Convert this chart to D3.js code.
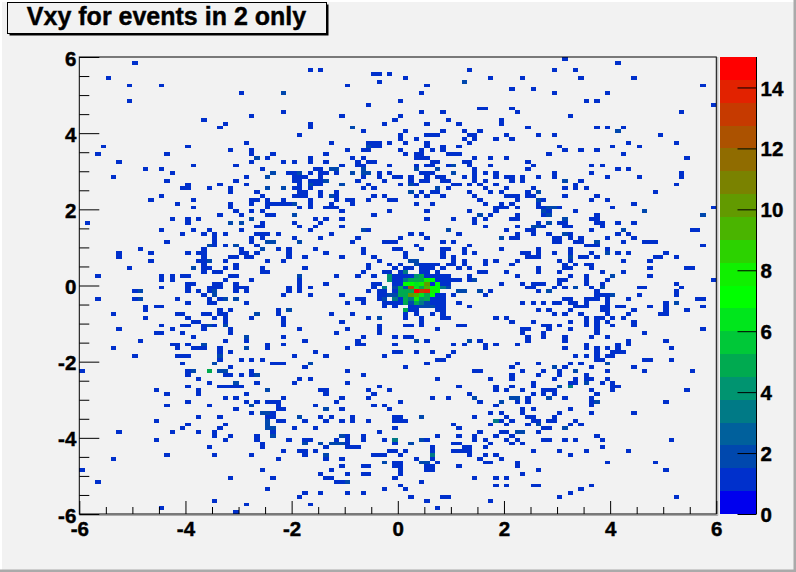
<!DOCTYPE html>
<html><head><meta charset="utf-8">
<script src="https://cdn.jsdelivr.net/npm/d3@7/dist/d3.min.js"></script>
<style>html,body{margin:0;padding:0;background:#f2f2f2;overflow:hidden}svg{display:block}text{font-family:"Liberation Sans",Arial,sans-serif;font-weight:bold}</style>
</head><body><svg id="c" width="796" height="572"></svg>
<script>
const titleText = "Vxy for events in 2 only";
const axisRange = [-6, 6];
const binCount = 120;
const majorTicks = [-6,-4,-2,0,2,4,6];
const minorTicks = [-5.5,-5,-4.5,-3.5,-3,-2.5,-1.5,-1,-0.5,0.5,1,1.5,2.5,3,3.5,4.5,5,5.5];
const paletteTicks = [0,2,4,6,8,10,12,14];
const paletteMax = 15;
const palette = ["#0000ee","#0030cc","#0048ae","#00609c","#007a86","#009470","#00aa50","#00c838","#00e61c","#00ff00","#10f000","#2cd200","#4ab400","#629a00","#7a8200","#906c00","#ac5200","#c63a00","#e22200","#ff0000"];
// bins with at least one event, listed per row of the histogram from the top
const rowBins = [
[91],[10,101],[],[43,45,73,89,93],[55,56,58],[5,61,77,83,94,104],[56,72],[9,15,50,65,117],[81,85],[30,38,64,89,99],
[],[9,60,95,97],[54,119],[75,76,81],[38,64,68,82,113],[32,49,60,92],[23,59,69,79],[27,43,57,65,71,79],[26,43,51,84,97,99,102],[53,61,68,72,75,101],
[41,60,65,66,67,73,74,80,86,89,109],[60,63,72,74,78,81],[31,47,54,55,56,58,61,65,73,103,112],[4,20,54,55,56,65,68,71,90,100,105],[28,32,50,53,54,60,64,66,68,91,94,97],
[3,16,32,36,46,61,63,64,69,70,71,88,102],[33,35,43,51,53,63,64,65,74,77,80,114],[7,32,38,40,43,46,52,54,55,66,67,72,73,84],[21,29,49,52,53,58,63,65,66,69,70,73,77,85,96,98],[12,15,34,44,45,47,48,53,63,67,74,84,101,103],
[17,36,39,40,41,43,45,46,48,51,53,54,56,58,64,65,66,70,74,76,78,89,96,113],[6,31,35,40,41,42,45,53,56,59,60,62,65,67,68,72,74,78,80,81,83,86,89,99,105,113],[16,29,40,41,43,44,45,46,52,57,62,64,65,68,69,74,76,81,83,91,94],[20,26,31,41,43,44,45,49,54,60,62,63,70,71,73,75,78,93,112],[19,20,24,28,35,38,40,41,43,53,55,67,69,76,80,85,91,93,95],
[28,33,41,42,45,48,62,64,66,67,73,77,79,84,86,108],[15,34,40,41,42,45,47,48,55,57,63,65,68,74,80,81,82,84,85,91,97],[13,21,32,33,35,38,43,48,50,51,54,58,59,75,82,86,87,96,99],[18,28,32,35,36,37,38,39,40,43,47,51,63,66,76,79,81,86,104],[21,28,35,41,43,46,47,48,78,79,80,82,86,87,88,89,90,100,119],
[29,32,34,49,58,65,73,78,87,88,93,106],[26,30,35,36,40,55,75,77,82,87,88,97,117],[17,20,22,32,44,46,49,65,70,74,76,81,82,91,96,97],[1,20,28,30,34,40,45,74,86,88,90,91,97,98,101,104],[33,34,41,44,49,76,82,85,86,87,91,92,98],
[15,21,24,30,43,53,54,69,80,84,85,96,102,115,116],[19,23,25,27,33,34,35,37,47,62,64,71,82,85,88,91,92,101,103],[25,32,34,40,45,52,60,65,79,81,82,89,90,92,94,99,104],[16,25,32,35,36,41,51,57,58,59,68,70,89,90,93,94,97,102,106,107,108],[24,25,27,29,33,63,73,95,96,97,117],
[11,23,30,34,37,39,44,53,59,60,64,68,69,72,79,86,92,99],[7,13,20,22,23,30,31,33,39,46,53,61,68,72,74,83,84,86,89,92,96,99,101,103,110],[7,23,28,29,31,32,39,42,49,55,61,68,70,84,85,86,92,94,95,97,108,109,112],[13,22,23,24,27,35,38,56,62,63,70,72,76,78,82,90,92,102,107],[23,29,54,58,60,63,64,65,66,67,69,70,72,76,81,91,93,95,96],
[9,21,23,24,27,29,34,42,54,59,61,62,64,65,66,68,71,73,86,91,92,96,107,114,115],[23,25,26,34,35,53,57,58,60,61,64,65,67,75,76,80,86,90,98,102],[3,15,17,19,20,28,29,41,48,52,55,59,60,61,62,65,66,67,68,69,73,82,92,95,100,107],[15,17,27,32,41,59,60,67,68,69,70,71,73,74,90,91,95,99,119],[20,21,25,26,29,41,46,55,56,59,60,66,68,69,79,83,85,86,87,90,95,98,112],
[15,20,24,25,26,29,30,31,39,41,43,55,59,84,85,89,91,93,96,98,105,106,113],[10,11,20,22,24,25,29,31,39,41,54,56,57,59,71,72,75,77,86,88,97,112],[23,25,38,43,49,56,57,58,59,67,68,70,76,97,98,99,100,105,112],[3,10,11,18,24,26,27,29,52,53,56,57,60,66,67,68,91,92,95,96,97,99,103,116,117],[20,24,25,31,50,53,57,58,59,60,66,67,68,71,83,85,87,89,90,92,93,95,99,110,112],
[12,14,15,57,59,62,63,67,68,73,93,94,95,98,99,101,102,107,110,117],[12,26,28,37,39,62,63,67,68,86,88,92,98,99,104,110,114],[6,18,19,23,24,26,27,33,37,47,51,61,63,66,68,89,91,94,99,103,109,110],[12,20,25,27,32,38,54,56,61,64,68,69,78,80,95,97,98,100,102],[21,22,27,38,49,64,81,85,92,95,97,99,104],
[15,19,20,23,24,25,27,38,56,61,62,64,71,72,87,88,90,95,97,100,104],[7,17,23,28,41,50,56,67,83,84,88,92,97,117],[14,15,19,28,48,56,83,87,97,106],[21,31,38,53,59,61,62,84,87,91,96,99],[11,27,31,42,52,63,65,73,75,84,91,103,110],
[17,18,20,23,35,38,52,53,59,70,72,76,78,82,95,101,103],[6,18,21,22,23,26,31,35,50,76,91,95,97,99,101,111],[26,28,44,59,60,63,66,70,97,100,101,102],[10,18,19,20,26,40,46,57,69,93,95,97,99,100],[26,30,32,34,67,68,97,98,106,107,111],
[19,25,36,37,38,43,65,82,86,92,94,99],[28,42,61,81,89,91,96,104],[0,20,21,24,26,27,32,50,74,75,83,87,90,93,99,106,115],[20,27,28,30,32,33,53,81,86,90,95],[22,41,43,67,77,81,89,93,95,96,99],
[24,29,33,40,50,85,92,93,95,98,100],[20,26,27,28,29,30,56,71,78,81,85,90,92,100,101],[14,22,35,45,46,54,58,78,80,83,87,88,89,96,100,114],[16,22,31,46,55,73,85,87,89,97],[27,29,38,49,54,66,69,74,81,82,84,88,91,96],
[20,31,33,35,36,37,48,60,75,79,82,84,96,97,110],[16,24,32,37,44,55,57,78,96],[29,37,38,46,49,58,83,85,92],[32,34,35,36,77,79,83,90,96,104],[22,26,35,36,41,45,47,51,59,60,64,74,80,84,85,89],
[14,35,37,38,42,46,49,51,54,59,60,61,78,79,81,85,86,88,89,93],[20,27,35,70,77,80,84,86,92,94],[19,26,35,36,40,44,59,71,87,88,91],[7,17,22,25,36,56,75,79,80,82,83,86],[25,28,33,36,49,50,53,67,71,74,78,81,97],
[14,27,33,39,42,43,48,50,53,57,59,64,65,74,76,80,82,87,88,91,93,98,111],[34,42,45,47,48,49,50,59,62,70,71,77,81,83],[24,34,46,50,51,52,66,72,73,76,98],[38,41,42,44,58,59,61,66,70,71,72,73,85,90,95,103],[16,25,32,42,46,55,56,57,60,66,73,76,78,92],
[6,37,46,49,63,66,75,79],[57,59,60,64,65,67,76,77,82,99,108],[49,53,54,59,60,65,66,71,82],[0,34,47,60,65,66,86,110],[45,50,53,54,60,83],
[28,36,46,47,59,74,78,80],[3,48,49,50,64],[60,78,80,85,86,96],[35,57,61,94],[42,45,50,53,92],
[41,62,68,69,90,112],[25,65,77],[31,43],[15,67],[29]
];
// [row, bin] of the cells that hold two events
const doubleCells = [[6,72],[9,38],[18,51],[19,101],[23,54],[26,33],[28,70],[29,47],[29,48],[29,53],[29,63],[29,67],[30,36],[30,41],[30,51],[30,53],[30,54],[30,70],[31,35],[32,46],[32,91],[33,43],[33,49],[33,62],[34,35],[34,38],[34,67],[35,62],[35,86],[36,47],[37,86],[38,40],[39,88],[39,89],[40,87],[40,106],[41,40],[41,75],[41,88],[41,117],[42,32],[42,91],[43,28],[43,30],[43,88],[44,85],[44,86],[45,53],[45,69],[45,102],[46,91],[47,79],[48,35],[48,36],[48,41],[48,97],[49,24],[49,29],[50,34],[51,99],[52,92],[53,24],[53,62],[53,63],[54,63],[55,21],[56,61],[57,41],[57,100],[58,74],[60,59],[60,93],[60,98],[61,11],[61,25],[61,71],[61,72],[61,75],[61,88],[62,25],[62,58],[62,59],[62,100],[63,11],[63,27],[63,29],[63,57],[64,62],[64,65],[64,112],[65,64],[65,65],[65,66],[66,39],[67,33],[68,56],[70,24],[70,27],[73,31],[74,63],[74,73],[75,23],[76,31],[78,26],[80,25],[80,43],[80,99],[81,89],[82,21],[82,26],[82,27],[82,93],[83,33],[85,29],[85,95],[86,90],[87,35],[89,74],[89,81],[89,82],[89,88],[90,79],[90,97],[91,32],[92,46],[93,34],[93,35],[94,41],[94,64],[95,35],[96,35],[96,86],[97,35],[97,36],[97,91],[98,82],[98,83],[99,36],[99,49],[100,64],[101,42],[101,45],[101,47],[101,48],[101,49],[101,62],[104,46],[106,57],[106,64],[106,65],[111,50]];
// [row, bin, events] of the cells with three or more events
const peakCells = [[56,61,3],[57,58,4],[57,63,4],[57,64,5],[58,58,4],[58,61,3],[58,62,5],[58,63,5],[58,64,5],[58,65,8],[58,66,7],[59,61,7],[59,62,7],[59,63,6],[59,64,8],[59,65,10],[59,67,7],[60,57,3],[60,60,5],[60,61,2],[60,62,12],[60,63,6],[60,64,5],[60,65,9],[60,66,7],[60,67,7],[60,68,3],[60,69,2],[61,60,5],[61,61,5],[61,62,5],[61,63,15],[61,64,13],[61,65,14],[61,66,8],[61,67,7],[62,60,5],[62,61,5],[62,62,10],[62,63,9],[62,64,6],[62,65,5],[62,66,7],[63,59,3],[63,61,5],[63,62,3],[63,63,8],[63,64,4],[63,65,5],[63,57,2],[64,61,5],[64,63,5],[64,64,3],[66,61,5],[82,24,5],[86,92,3],[95,78,3],[100,59,3],[104,66,3]];

const svg = d3.select("#c");
const plot = {left:79.3, right:716.3, top:57, bottom:514};
const x = d3.scaleLinear().domain(axisRange).range([plot.left, plot.right]);
const y = d3.scaleLinear().domain(axisRange).range([plot.bottom, plot.top]);
const binW = (axisRange[1]-axisRange[0])/binCount;
const colour = d3.scaleQuantize().domain([0,paletteMax]).range(palette);

// canvas borders
svg.append("rect").attr("width",796).attr("height",572).attr("fill","#f2f2f2");
svg.append("path").attr("d","M0,0H796V2H2V572H0Z").attr("fill","#ffffff");
svg.append("path").attr("d","M796,0V572H0V569.5H793.5V0Z").attr("fill","#aaaaaa");

// cells
const counts = new Map();
rowBins.forEach((bins,row)=>bins.forEach(b=>counts.set(row+"_"+b,1)));
doubleCells.forEach(([r,b])=>counts.set(r+"_"+b,2));
peakCells.forEach(([r,b,v])=>counts.set(r+"_"+b,v));
const cells = Array.from(counts,([k,v])=>{const [r,b]=k.split("_").map(Number);return {r,b,v};});
svg.append("g").attr("shape-rendering","crispEdges").selectAll("rect").data(cells).join("rect")
 .attr("x",d=>x(axisRange[0]+d.b*binW))
 .attr("width",d=>x(axisRange[0]+(d.b+1)*binW)-x(axisRange[0]+d.b*binW))
 .attr("y",d=>y(axisRange[1]-d.r*binW))
 .attr("height",d=>y(axisRange[1]-(d.r+1)*binW)-y(axisRange[1]-d.r*binW))
 .attr("fill",d=>colour(d.v));

// frame shadow and frame
svg.append("path").attr("d",`M${plot.right+1.5},${plot.top}V${plot.bottom+1.5}H${plot.left}`).attr("fill","none").attr("stroke","#aaaaaa").attr("stroke-width",1);
svg.append("rect").attr("x",plot.left).attr("y",plot.top).attr("width",plot.right-plot.left).attr("height",plot.bottom-plot.top).attr("fill","none").attr("stroke","#000").attr("stroke-width",1);

function styleAxis(g){g.select(".domain").remove();g.selectAll("line").attr("stroke","#000").attr("stroke-width",1);g.selectAll("text").attr("fill","#000").attr("font-size",20.5).attr("stroke","#000").attr("stroke-width",0.45).attr("font-family",'"Liberation Sans",Arial,sans-serif').attr("font-weight","bold");}
const fmt = d=>String(d);
svg.append("g").attr("transform",`translate(${plot.left},0)`).call(d3.axisLeft(y).tickValues(majorTicks).tickSize(-20).tickPadding(3).tickFormat(fmt)).call(styleAxis).selectAll("text").attr("x",-3).attr("y",1.5);
svg.append("g").attr("transform",`translate(${plot.left},0)`).call(d3.axisLeft(y).tickValues(minorTicks).tickSize(-10).tickFormat("")).call(styleAxis);
svg.append("g").attr("transform",`translate(0,${plot.bottom})`).call(d3.axisBottom(x).tickValues(majorTicks).tickSize(-13).tickPadding(4).tickFormat(fmt)).call(styleAxis).selectAll("text").attr("y",7.5);
svg.append("g").attr("transform",`translate(0,${plot.bottom})`).call(d3.axisBottom(x).tickValues(minorTicks).tickSize(-7).tickFormat("")).call(styleAxis);

// palette
const pal = {left:720, right:756.5};
const z = d3.scaleLinear().domain([0,paletteMax]).range([plot.bottom, plot.top]);
svg.append("g").attr("shape-rendering","crispEdges").selectAll("rect").data(palette).join("rect")
 .attr("x",pal.left).attr("width",pal.right-pal.left)
 .attr("y",(d,i)=>z((i+1)*paletteMax/palette.length))
 .attr("height",(d,i)=>z(i*paletteMax/palette.length)-z((i+1)*paletteMax/palette.length))
 .attr("fill",d=>d);
svg.append("line").attr("x1",pal.right).attr("x2",pal.right).attr("y1",plot.top).attr("y2",plot.bottom).attr("stroke","#000");
svg.append("g").attr("transform",`translate(${pal.right},0)`).call(d3.axisRight(z).tickValues(paletteTicks).tickSize(-19).tickPadding(4).tickFormat(fmt)).call(styleAxis).selectAll("text").attr("x",4).attr("y",1);

// title
svg.append("rect").attr("x",9.5).attr("y",4.5).attr("width",319).attr("height",31).attr("fill","#000");
svg.append("rect").attr("x",7.5).attr("y",2.5).attr("width",319).attr("height",31).attr("fill","#f2f2f2").attr("stroke","#000");
svg.append("text").attr("x",166.5).attr("y",25).attr("text-anchor","middle").attr("font-size",25).attr("fill","#000").attr("stroke","#000").attr("stroke-width",0.4).text(titleText);
</script></body></html>
